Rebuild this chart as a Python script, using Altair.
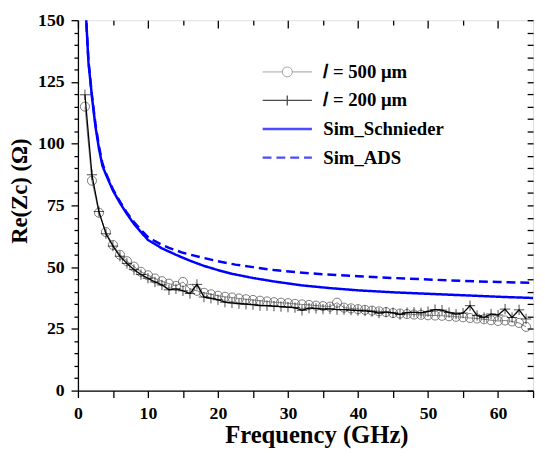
import altair as alt
import pandas as pd

# ---------------- data ----------------
freq_meas = list(range(1, 65))
re_500 = [115, 85, 72, 64.2, 59, 55, 52.4, 50.2, 48.1, 46.7,
          45.4, 44.3, 43.3, 42.4, 44.0, 41.2, 40.4, 39.6, 39.0, 38.4,
          38.0, 37.7, 37.3, 37.0, 36.7, 36.4, 36.1, 35.8, 35.6, 35.4,
          35.1, 34.9, 34.7, 34.4, 34.2, 34.0, 35.6, 33.6, 33.3, 33.0,
          32.7, 32.4, 32.1, 31.8, 31.4, 31.2, 31.0, 30.8, 30.7, 30.5,
          30.4, 30.3, 30.1, 29.9, 29.7, 29.4, 29.2, 28.9, 28.5, 28.2,
          28.4, 28.0, 27.4, 25.8]
re_200 = [119.8, 87.4, 72.5, 63.5, 58.5, 54.4, 51.5, 49.0, 47.0, 45.5,
          44.0, 42.8, 40.8, 41.2, 40.4, 39.3, 43.0, 37.9, 37.4, 36.8,
          35.8, 35.5, 35.2, 35.0, 34.8, 34.4, 34.4, 34.2, 34.0, 33.8,
          33.6, 32.5, 33.4, 33.3, 33.0, 33.1, 32.8, 32.8, 32.6, 32.4,
          32.3, 32.0, 31.4, 31.8, 31.5, 30.8, 31.6, 31.7, 31.5, 32.0,
          32.8, 32.6, 31.6, 31.0, 31.4, 34.4, 30.4, 29.6, 31.0, 30.6,
          33.0, 29.6, 32.7, 29.0]
freq_schnieder = [1.0, 1.5, 2, 2.5, 3, 3.5, 4, 5, 6, 7, 8, 9, 10, 12, 14,
                  16, 18, 20, 22, 25, 28, 32, 36, 40, 45, 50, 55, 60, 65]
re_schnieder = [160, 133, 119, 107, 98, 91, 87.5, 81, 76, 71.5, 67.5, 64.2,
                61, 57.6, 55.0, 52.6, 50.5, 48.8, 47.3, 45.6, 44.2, 42.6,
                41.5, 40.6, 39.8, 39.2, 38.6, 38.0, 37.5]
freq_ads = [1.0, 1.5, 2, 2.5, 3, 3.5, 4, 5, 6, 7, 8, 9, 10, 11, 12, 13, 15,
            17.5, 20, 22.5, 25, 28, 31, 35, 40, 45, 50, 55, 60, 65]
re_ads = [160, 133.5, 119.5, 108, 99, 92, 88, 81.5, 76.5, 72, 68.3, 65,
          62.2, 60.5, 59.0, 57.8, 55.8, 54.0, 52.4, 51.0, 50.0, 48.8, 48.0,
          47.1, 46.3, 45.6, 45.0, 44.4, 44.0, 43.6]

names = ["\U0001D459 = 500 \u03bcm", "\U0001D459 = 200 \u03bcm", "Sim_Schnieder", "Sim_ADS"]
colors = ["#6e6e6e", "#000000", "#0000ff", "#0000ff"]
dashes = [[1, 0], [1, 0], [1, 0], [9, 5]]
widths = [1.0, 1.3, 2.5, 2.5]
legend_paths = [
    "M-5,0L-1,0M1,0L5,0M-1,0A1,1,0,1,1,1,0A1,1,0,1,1,-1,0",
    "M-5,0L5,0M0,-1L0,1",
    "M-5,0L5,0",
    "M-5,0L5,0",
]

x_major = list(range(0, 70, 10))
x_minor = list(range(5, 65, 10))
x_all = list(range(0, 70, 5))
y_major = list(range(0, 175, 25))
y_minor = [v for v in range(0, 155, 5) if v % 25 != 0]
y_all = list(range(0, 155, 5))

# ---------------- tables ----------------
rows = []
for f, v in zip(freq_meas, re_500):
    rows.append({"f": f, "v": v, "series": names[0]})
for f, v in zip(freq_meas, re_200):
    rows.append({"f": f, "v": v, "series": names[1]})
for f, v in zip(freq_schnieder, re_schnieder):
    rows.append({"f": f, "v": v, "series": names[2]})
for f, v in zip(freq_ads, re_ads):
    rows.append({"f": f, "v": v, "series": names[3]})
df = pd.DataFrame(rows)
df500 = pd.DataFrame({"f": freq_meas, "v": re_500})
df200 = pd.DataFrame({"f": freq_meas, "v": re_200})

FONT = "Liberation Serif"
xs = alt.Scale(domain=[0, 65], nice=False, zero=False)
ys = alt.Scale(domain=[0, 150], nice=False, zero=False)

LEG = alt.Legend(
    title=None, orient="none", legendX=203, legendY=43, padding=0,
    labelOffset=27, symbolSize=100, rowPadding=9,
    labelFont=FONT, labelFontSize=19, labelFontWeight="bold",
    labelColor="black", labelLimit=400,
)

common_axis = dict(grid=False, tickColor="black", tickWidth=1.3,
                   domainColor="black", domainWidth=1.3)

bottom_axis = alt.Axis(
    orient="bottom", values=x_all, tickSize=7,
    labelExpr="datum.value % 10 == 0 ? datum.label : ''",
    labelFont=FONT, labelFontSize=18, labelFontWeight="bold",
    labelColor="black", labelPadding=7, labelOverlap=False, labelFlush=False,
    title="Frequency (GHz)", titleFont=FONT, titleFontSize=25,
    titleFontWeight="bold", titleColor="black", titleX=242, titleY=53,
    titleAlign="center", titleBaseline="alphabetic", **common_axis)

left_axis = alt.Axis(
    orient="left", values=y_major, tickSize=7,
    labelFont=FONT, labelFontSize=18, labelFontWeight="bold",
    labelColor="black", labelPadding=7, labelOverlap=False, labelFlush=False,
    title="Re(Zc) (\u03a9)", titleFont=FONT, titleFontSize=23,
    titleFontWeight="bold", titleColor="black", titleX=-52, titleY=173,
    titleAngle=270, titleAlign="center", titleBaseline="alphabetic",
    **common_axis)

left_minor_axis = alt.Axis(orient="left", values=y_minor, tickSize=4,
                           labels=False, domain=False, title=None,
                           grid=False, tickColor="black", tickWidth=1.3)
top_major_axis = alt.Axis(orient="top", values=x_major, tickSize=8, offset=-8,
                          labels=False, domain=False, title=None,
                          grid=False, tickColor="black", tickWidth=1.3)
top_minor_axis = alt.Axis(orient="top", values=x_minor, tickSize=5, offset=-5,
                          labels=False, domain=False, title=None,
                          grid=False, tickColor="black", tickWidth=1.3)
right_axis = alt.Axis(orient="right", values=y_all, tickSize=6, offset=-6,
                      labels=False, domain=False, title=None,
                      grid=False, tickColor="black", tickWidth=1.3)

circles = alt.Chart(df500).mark_point(
    shape="circle", size=85, filled=False, color="#444444",
    strokeWidth=1, clip=True
).encode(
    x=alt.X("f:Q", scale=xs, axis=top_major_axis),
    y=alt.Y("v:Q", scale=ys, axis=right_axis),
)

lines = alt.Chart(df).mark_line(clip=True).encode(
    x=alt.X("f:Q", scale=xs, axis=bottom_axis),
    y=alt.Y("v:Q", scale=ys, axis=left_axis),
    color=alt.Color("series:N", scale=alt.Scale(domain=names, range=colors), legend=LEG),
    strokeDash=alt.StrokeDash("series:N", scale=alt.Scale(domain=names, range=dashes), legend=LEG),
    strokeWidth=alt.StrokeWidth("series:N", scale=alt.Scale(type="ordinal", domain=names, range=widths), legend=LEG),
)

crosses = alt.Chart(df200).mark_point(
    shape="M-1,0L1,0M0,-1L0,1", size=110, filled=False, color="black",
    strokeWidth=1, clip=True
).encode(
    x=alt.X("f:Q", scale=xs, axis=top_minor_axis),
    y=alt.Y("v:Q", scale=ys, axis=left_minor_axis),
)

legend_layer = alt.Chart(df).transform_filter("datum.f < 0").mark_point(filled=False).encode(
    x=alt.X("f:Q", scale=xs, axis=None),
    y=alt.Y("v:Q", scale=ys, axis=None),
    shape=alt.Shape("series:N", scale=alt.Scale(domain=names, range=legend_paths), legend=LEG),
    color=alt.Color("series:N", scale=alt.Scale(domain=names, range=colors), legend=LEG),
)

chart = alt.layer(circles, lines, crosses, legend_layer).resolve_axis(
    x="independent", y="independent"
).properties(
    width=462, height=376,
    autosize=alt.AutoSizeParams(type="none"),
    padding={"left": 71, "top": 9, "right": 4, "bottom": 62},
).configure_view(stroke="black", strokeWidth=1.3).configure(font=FONT)

chart.save("out.html", embed_options={"renderer": "svg", "actions": False})
